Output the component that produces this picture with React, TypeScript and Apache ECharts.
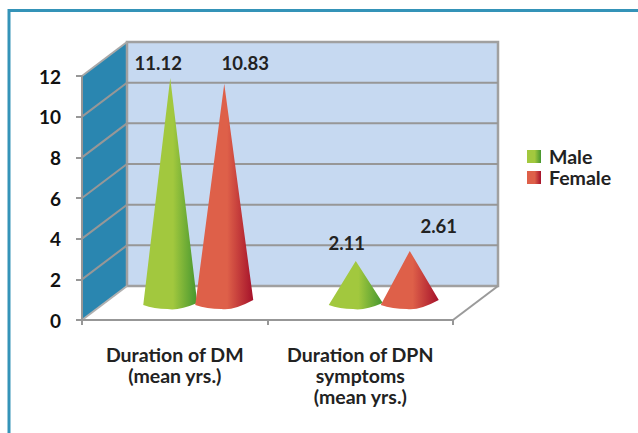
import React, { useEffect, useRef } from "react";
import * as echarts from "echarts";

const categories = ["Duration of DM\n(mean yrs.)", "Duration of DPN\nsymptoms\n(mean yrs.)"];
const maleValues = [11.12, 2.11];
const femaleValues = [10.83, 2.61];
const yTicks = [0, 2, 4, 6, 8, 10, 12];

const FONT = "Lato";
const DEPTH_X = 45;
const DEPTH_Y = 34;
const MALE_LAYOUT = { dx: -27, halfW: 27, tiltR: -1, labelDx: [-12, -9], labelDy: [-15, -18] };
const FEMALE_LAYOUT = { dx: 27, halfW: 29, tiltR: -4, labelDx: [21, 29], labelDy: [-21, -25] };

const grad = (c1: string, c2: string) =>
  new echarts.graphic.LinearGradient(0, 0, 1, 0, [
    { offset: 0, color: c1 },
    { offset: 0.55, color: c1 },
    { offset: 1, color: c2 },
  ]);
const maleFill = () => grad("#A2C83E", "#45962F");
const femaleFill = () => grad("#DE6049", "#A5112A");

function coneItem(layout: typeof MALE_LAYOUT, fill: () => any) {
  return (params: any, api: any) => {
    const cat = api.value(0);
    const val = api.value(1);
    const base = api.coord([cat, 0]);
    const top = api.coord([cat, val]);
    const cx = base[0] + DEPTH_X / 2 + layout.dx;
    const by = base[1] - DEPTH_Y / 2 + 1;
    const ay = top[1] - DEPTH_Y / 2 + 1;
    const w = layout.halfW;
    const lx = cx - w, rx = cx + w;
    const ly = by + 1, ry = by + layout.tiltR;
    const bottom = by + 5;
    const d = [
      `M${cx} ${ay}`,
      `L${rx} ${ry}`,
      `Q${cx + w * 0.3} ${bottom + 2} ${cx - w * 0.1} ${bottom}`,
      `Q${cx - w * 0.6} ${bottom} ${lx} ${ly}`,
      "Z",
    ].join(" ");
    const i = params.dataIndex;
    return {
      type: "group",
      children: [
        {
          type: "path",
          shape: { pathData: d },
          style: { fill: fill() },
        },
        {
          type: "text",
          x: cx + layout.labelDx[i],
          y: ay + layout.labelDy[i],
          style: {
            text: val.toFixed(2),
            fill: "#222222",
            font: `bold 18.5px ${FONT}`,
            align: "center",
            verticalAlign: "middle",
          },
        },
      ],
    };
  };
}

function wallItem(params: any, api: any) {
  const cs = params.coordSys;
  const x0 = cs.x, x1 = cs.x + cs.width;
  const yB = cs.y + cs.height;
  const line = { stroke: "#9A9A9A", lineWidth: 2, fill: "none" };
  const y = (v: number) => api.coord([0, v])[1];
  const children: any[] = [
    {
      type: "polygon",
      shape: { points: [[x0, y(0)], [x0 + DEPTH_X, y(0) - DEPTH_Y], [x0 + DEPTH_X, y(12) - DEPTH_Y], [x0, y(12)]] },
      style: { fill: "#2A86B0" },
    },
    {
      type: "rect",
      shape: { x: x0 + DEPTH_X, y: y(12) - DEPTH_Y, width: cs.width, height: cs.height },
      style: { fill: "#C6D9F1", stroke: "#A0A0A0", lineWidth: 2.5 },
    },
    {
      type: "polyline",
      shape: { points: [[x0, yB], [x0 + DEPTH_X, yB - DEPTH_Y]] },
      style: { ...line, stroke: "#B0B0B0" },
    },
    {
      type: "polyline",
      shape: { points: [[x1, yB], [x1 + DEPTH_X, yB - DEPTH_Y]] },
      style: line,
    },
    {
      type: "polyline",
      shape: { points: [[x0, y(12)], [x0 + DEPTH_X, y(12) - DEPTH_Y]] },
      style: { ...line, stroke: "#A8A8A8" },
    },
  ];
  yTicks.forEach((t) => {
    if (t === 0 || t === 12) return;
    children.push({
      type: "polyline",
      shape: { points: [[x0, y(t)], [x0 + DEPTH_X, y(t) - DEPTH_Y], [x1 + DEPTH_X, y(t) - DEPTH_Y]] },
      style: { stroke: "#979797", lineWidth: 2, fill: "none" },
    });
  });
  return { type: "group", children };
}

export default function App() {
  const ref = useRef<HTMLDivElement>(null);
  useEffect(() => {
    const chart = echarts.init(ref.current!, null, { renderer: "svg" });
    chart.setOption({
      animation: false,
      backgroundColor: "#fff",
      textStyle: { fontFamily: FONT },
      graphic: [
        {
          type: "rect",
          z: -1,
          shape: { x: 9, y: 10.5, width: 640, height: 440 },
          style: { fill: "none", stroke: "#3493B8", lineWidth: 3 },
        },
      ],
      legend: {
        left: 527,
        top: 146,
        padding: 0,
        orient: "vertical",
        itemWidth: 14,
        itemHeight: 13,
        itemGap: 0,
        icon: "rect",
        textStyle: { fontFamily: FONT, fontWeight: "bold", fontSize: 19.5, lineHeight: 21, color: "#222", padding: [0, 0, 0, 3] },
        data: ["Male", "Female"],
      },
      grid: { left: 82, top: 76, width: 371, height: 244, containLabel: false },
      xAxis: {
        type: "category",
        data: categories,
        z: 5,
        axisLine: { lineStyle: { color: "#979797", width: 2 } },
        axisTick: { show: true, alignWithLabel: false, length: 5, lineStyle: { color: "#979797", width: 2 } },
        axisLabel: {
          interval: 0,
          margin: 24,
          color: "#222",
          fontFamily: FONT,
          fontWeight: "bold",
          fontSize: 19.5,
          lineHeight: 21,
        },
        splitLine: { show: false },
      },
      yAxis: {
        type: "value",
        min: 0,
        max: 12,
        interval: 2,
        z: 5,
        axisLine: { show: true, lineStyle: { color: "#979797", width: 2 } },
        axisTick: { show: true, length: 6, lineStyle: { color: "#979797", width: 2 } },
        axisLabel: { margin: 21, color: "#111", fontFamily: FONT, fontWeight: "bold", fontSize: 19 },
        splitLine: { show: false },
      },
      series: [
        {
          type: "custom",
          name: "walls",
          z: 1,
          silent: true,
          data: [[0, 0]],
          encode: { x: 0, y: 1 },
          renderItem: wallItem,
        },
        {
          type: "custom",
          name: "Male",
          z: 3,
          itemStyle: { color: maleFill() },
          data: maleValues.map((v, i) => [i, v]),
          encode: { x: 0, y: 1 },
          renderItem: coneItem(MALE_LAYOUT, maleFill),
        },
        {
          type: "custom",
          name: "Female",
          z: 4,
          itemStyle: { color: femaleFill() },
          data: femaleValues.map((v, i) => [i, v]),
          encode: { x: 0, y: 1 },
          renderItem: coneItem(FEMALE_LAYOUT, femaleFill),
        },
      ],
    });
    return () => chart.dispose();
  }, []);
  return <div ref={ref} style={{ position: "fixed", left: 0, top: 0, width: 638, height: 433 }} />;
}
